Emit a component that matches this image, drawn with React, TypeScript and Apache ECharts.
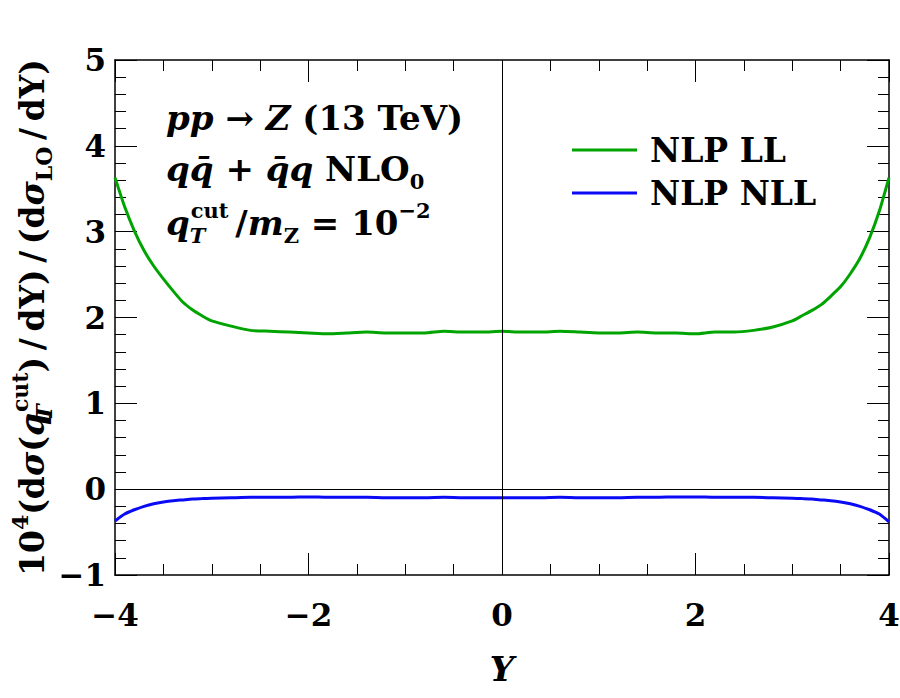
import React, { useEffect, useRef } from "react";
import * as echarts from "echarts";

// Rapidity grid
const RAPIDITY = [
  -4.0, -3.9, -3.8, -3.7, -3.6, -3.5, -3.4, -3.3, -3.2, -3.1, -3.0,
  -2.8, -2.6, -2.4, -2.2, -2.0, -1.8, -1.6, -1.4, -1.2, -1.0, -0.8, -0.6, -0.4, -0.2,
  0.0, 0.2, 0.4, 0.6, 0.8, 1.0, 1.2, 1.4, 1.6, 1.8, 2.0, 2.2, 2.4, 2.6, 2.8,
  3.0, 3.1, 3.2, 3.3, 3.4, 3.5, 3.6, 3.7, 3.8, 3.9, 4.0,
];

// NLP LL correction, 10^4 x ratio
const NLP_LL = [
  3.63, 3.29, 3.01, 2.78, 2.6, 2.45, 2.31, 2.18, 2.09, 2.02, 1.96,
  1.9, 1.85, 1.84, 1.83, 1.82, 1.81, 1.82, 1.83, 1.82, 1.82, 1.82, 1.84, 1.83, 1.83,
  1.84, 1.83, 1.83, 1.84, 1.83, 1.82, 1.82, 1.83, 1.82, 1.82, 1.81, 1.83, 1.83, 1.85, 1.89,
  1.96, 2.02, 2.08, 2.15, 2.25, 2.36, 2.51, 2.69, 2.93, 3.24, 3.63,
];

// NLP NLL correction, 10^4 x ratio
const NLP_NLL = [
  -0.37, -0.29, -0.24, -0.2, -0.17, -0.15, -0.135, -0.125, -0.115, -0.11, -0.105,
  -0.1, -0.095, -0.095, -0.095, -0.09, -0.095, -0.095, -0.095, -0.1, -0.1, -0.1, -0.095, -0.1, -0.1,
  -0.1, -0.1, -0.1, -0.095, -0.1, -0.1, -0.1, -0.095, -0.095, -0.09, -0.09, -0.095, -0.095, -0.095, -0.1,
  -0.105, -0.11, -0.115, -0.125, -0.135, -0.15, -0.17, -0.2, -0.24, -0.29, -0.38,
];

const SERIES_NAMES = ["NLP LL", "NLP NLL"];
const SERIES_COLORS = ["#00a400", "#0a0af5"];

const X_MIN = -4;
const X_MAX = 4;
const Y_MIN = -1;
const Y_MAX = 5;

const FONT = '"DejaVu Serif", "Liberation Serif", serif';

const minus = (v: number) => String(v).replace("-", "\u2212");

export default function App() {
  const ref = useRef<HTMLDivElement>(null);

  useEffect(() => {
    if (!ref.current) return;
    const chart = echarts.init(ref.current, undefined, { renderer: "svg" });

    const frameLine = { show: true, onZero: false, lineStyle: { color: "#000", width: 1.5 } };
    const majorTick = { show: true, inside: true, length: 22, lineStyle: { color: "#000", width: 1 } };
    const minorTick = (split: number) => ({
      show: true,
      splitNumber: split,
      length: 11,
      lineStyle: { color: "#000", width: 1 },
    });
    const tickLabel = {
      fontFamily: FONT,
      fontWeight: "bold" as const,
      fontSize: 31,
      color: "#000",
      formatter: minus,
    };

    const lineData = (vals: number[]) => RAPIDITY.map((x, i) => [x, vals[i]]);

    const textBase = { fontFamily: FONT, fontWeight: "bold", fontSize: 34, color: "#000" };
    const richAnn = {
      n: { ...textBase, lineHeight: 46 },
      i: { ...textBase, fontStyle: "italic", lineHeight: 46 },
      sup: { ...textBase, fontSize: 21, lineHeight: 18, verticalAlign: "top" },
      sub: { ...textBase, fontSize: 21, lineHeight: 18, verticalAlign: "bottom" },
      subT: { ...textBase, fontStyle: "italic", fontSize: 21, lineHeight: 18, verticalAlign: "bottom", width: 1 },
    };

    const annText = (y: number, text: string) => ({
      type: "text",
      left: 166,
      top: y,
      style: { text, rich: richAnn, fill: "#000", font: `bold 34px ${FONT}` },
    });

    chart.setOption({
      animation: false,
      backgroundColor: "#fff",
      grid: {
        left: 115,
        right: 11,
        top: 60,
        bottom: 123,
        containLabel: false,
        outerBoundsMode: "none",
      },
      legend: {
        orient: "vertical",
        left: 567,
        top: 124,
        itemWidth: 65,
        itemHeight: 3,
        itemGap: 1,
        icon: "rect",
        data: SERIES_NAMES,
        textStyle: {
          fontFamily: FONT,
          fontWeight: "bold",
          fontSize: 33,
          color: "#000",
          lineHeight: 34,
          padding: [8, 0, 0, 8],
        },
      },
      xAxis: [
        {
          type: "value",
          position: "bottom",
          min: X_MIN,
          max: X_MAX,
          interval: 2,
          axisLine: frameLine,
          axisTick: majorTick,
          minorTick: minorTick(4),
          splitLine: { show: false },
          axisLabel: { ...tickLabel, margin: 24 },
          name: "Y",
          nameLocation: "middle",
          nameGap: 77,
          nameMoveOverlap: false,
          nameTextStyle: { fontFamily: FONT, fontWeight: "bold", fontStyle: "italic", fontSize: 34, color: "#000" },
        },
        {
          type: "value",
          position: "top",
          min: X_MIN,
          max: X_MAX,
          interval: 2,
          axisLine: frameLine,
          axisTick: majorTick,
          minorTick: minorTick(4),
          splitLine: { show: false },
          axisLabel: { show: false },
        },
      ],
      yAxis: [
        {
          type: "value",
          position: "left",
          min: Y_MIN,
          max: Y_MAX,
          interval: 1,
          axisLine: frameLine,
          axisTick: majorTick,
          minorTick: minorTick(5),
          splitLine: { show: false },
          axisLabel: { ...tickLabel, margin: 9 },
          name:
            "{n|10}{sup|4}{n|(d}{g|σ}{n|(}{i|q}{subT|T}{sup|cut}{n|)\u2009/\u2009dY)\u2009/\u2009(d}{g|σ}{sub|LO}{n|\u2009/\u2009dY)}",
          nameLocation: "middle",
          nameRotate: 90,
          nameGap: 60,
          nameMoveOverlap: false,
          nameTextStyle: {
            rich: {
              n: { ...textBase, fontSize: 33, lineHeight: 46 },
              i: { ...textBase, fontSize: 33, fontStyle: "italic", lineHeight: 46 },
              g: { ...textBase, fontSize: 33, fontStyle: "italic", lineHeight: 46 },
              sup: { ...textBase, fontSize: 22, lineHeight: 18, verticalAlign: "top" },
              sub: { ...textBase, fontSize: 22, lineHeight: 18, verticalAlign: "bottom" },
              subT: { ...textBase, fontSize: 22, fontStyle: "italic", lineHeight: 18, verticalAlign: "bottom", width: 1 },
            },
          },
        },
        {
          type: "value",
          position: "right",
          min: Y_MIN,
          max: Y_MAX,
          interval: 1,
          axisLine: frameLine,
          axisTick: majorTick,
          minorTick: minorTick(5),
          splitLine: { show: false },
          axisLabel: { show: false },
        },
      ],
      graphic: [
        annText(101, "{i|pp} {n|\u2192} {i|Z} {n|(13 TeV)}"),
        annText(152, "{i|q\u0071\u0304} {n|+} {i|q\u0304q} {n|NLO}{sub|0}"),
        annText(200, "{i|q}{subT|T}{sup|cut}{n|\u2009/}{i|m}{sub|Z}{n| = 10}{sup|\u22122}"),
      ],
      series: [
        {
          name: SERIES_NAMES[0],
          type: "line",
          data: lineData(NLP_LL),
          showSymbol: false,
          smooth: 0.2,
          lineStyle: { color: SERIES_COLORS[0], width: 3 },
          itemStyle: { color: SERIES_COLORS[0] },
          z: 3,
          markLine: {
            silent: true,
            symbol: "none",
            label: { show: false },
            lineStyle: { color: "#000", width: 1, type: "solid" },
            data: [{ xAxis: 0 }, { yAxis: 0 }],
          },
        },
        {
          name: SERIES_NAMES[1],
          type: "line",
          data: lineData(NLP_NLL),
          showSymbol: false,
          smooth: 0.2,
          lineStyle: { color: SERIES_COLORS[1], width: 3 },
          itemStyle: { color: SERIES_COLORS[1] },
          z: 3,
        },
      ],
    });

    return () => chart.dispose();
  }, []);

  return (
    <div
      ref={ref}
      style={{ position: "fixed", left: 0, top: 0, width: 900, height: 698, background: "#fff" }}
    />
  );
}
